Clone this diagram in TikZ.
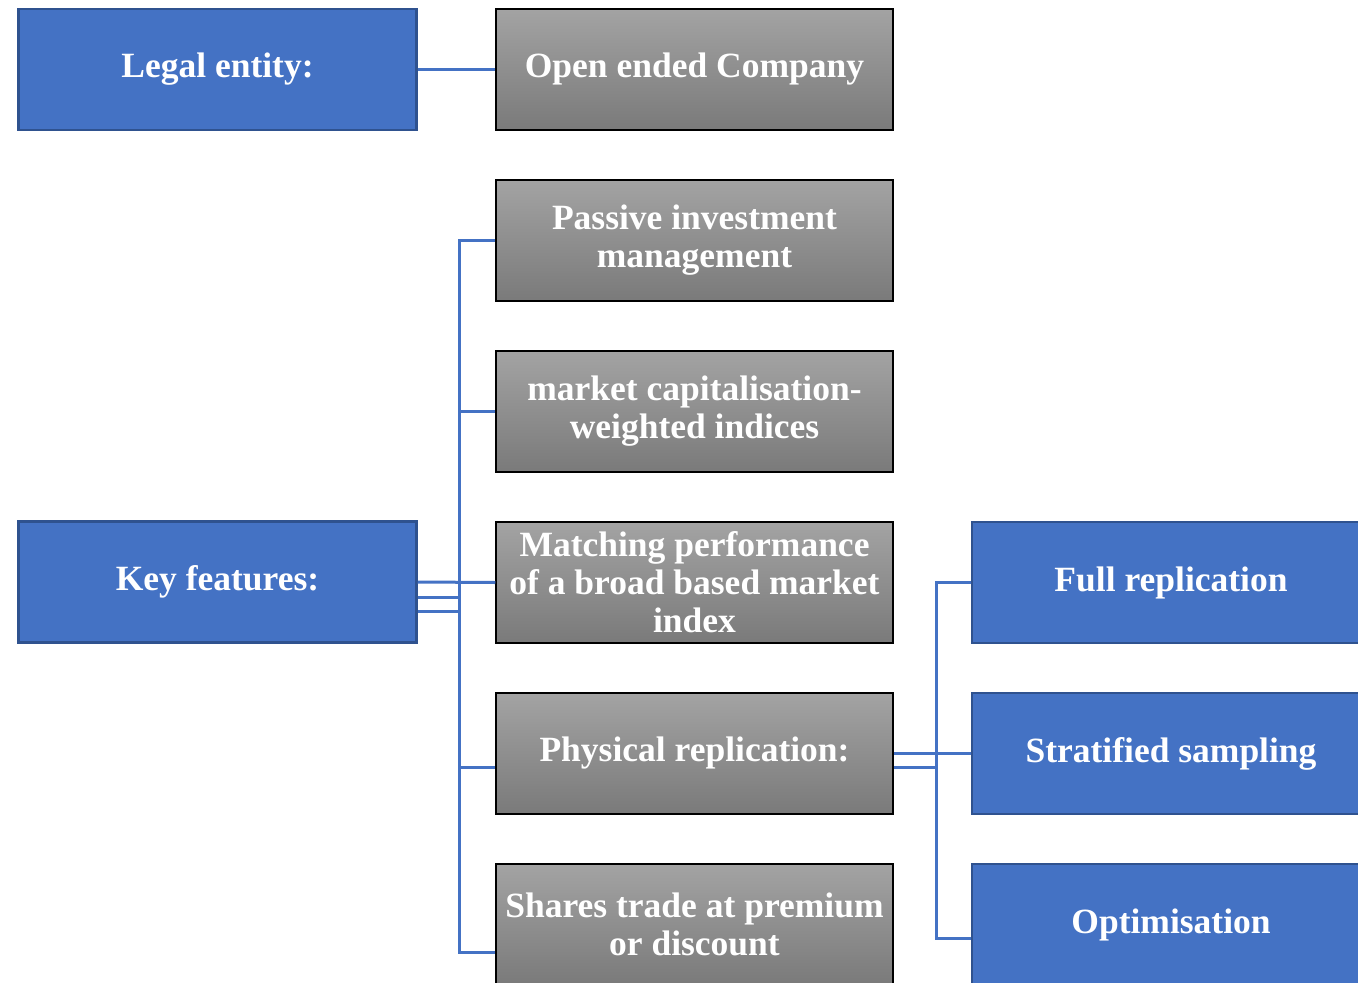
\documentclass[tikz,border=0pt]{standalone}
\usepackage{fontspec}
\setmainfont{Liberation Serif}
\definecolor{boxblue}{RGB}{68,114,196}
\definecolor{boxblueedge}{RGB}{47,82,143}
\definecolor{graytop}{RGB}{163,163,163}
\definecolor{graybot}{RGB}{122,122,122}
\tikzset{
  bluebox/.style={draw=boxblueedge, line width=2.5pt, fill=boxblue, text=white,
    minimum width=398pt, minimum height=121pt, inner sep=2pt, align=center,
    font=\fontsize{35.5}{38}\selectfont\bfseries},
  graybox/.style={draw=black, line width=1.5pt, top color=graytop, bottom color=graybot, text=white,
    minimum width=397pt, minimum height=121pt, inner sep=2pt, align=center,
    font=\fontsize{35.5}{38}\selectfont\bfseries},
  conn/.style={draw=boxblue, line width=3pt}
}
\begin{document}
\begin{tikzpicture}[x=1pt,y=-1pt]
\useasboundingbox (0,0) rectangle (1358,983);
\node[bluebox] (legal) at (217.5,69.5) {Legal entity:};
\node[graybox] (open) at (694.5,69.5) {Open ended Company};
\node[graybox] (passive) at (694.5,240.5) {Passive investment\\management};
\node[graybox] (market) at (694.5,411.5) {market capitalisation-\\weighted indices};
\node[graybox] (matching) at (694.5,582.5) {Matching performance\\of a broad based market\\index};
\node[graybox] (physical) at (694.5,753.5) {Physical replication:};
\node[graybox] (shares) at (694.5,924.5) {Shares trade at premium\\or discount};
\node[bluebox] (key) at (217.5,582) {Key features:};
\node[bluebox] (full) at (1171,582.5) {Full replication};
\node[bluebox] (strat) at (1171,753.5) {Stratified sampling};
\node[bluebox] (optim) at (1171,924.5) {Optimisation};
% connectors
\draw[conn] (legal.east) -- (open.west);
\draw[conn] (key.east) -- (matching.west);
\draw[conn] ([yshift=-29pt]key.east) -- ++(42,0) |- (passive.west);
\draw[conn] ([yshift=-29pt]key.east) -- ++(42,0) |- (market.west);
\draw[conn] ([yshift=-15pt]key.east) -- ++(42,0) |- ([yshift=-14pt]physical.west);
\draw[conn] ([yshift=-15pt]key.east) -- ++(42,0) |- ([yshift=-28pt]shares.west);
\draw[conn] (physical.east) -- (strat.west);
\draw[conn] ([yshift=-14pt]physical.east) -- ++(43,0) |- (full.west);
\draw[conn] (physical.east) -- ++(43,0) |- ([yshift=-14pt]optim.west);
\end{tikzpicture}
\end{document}
